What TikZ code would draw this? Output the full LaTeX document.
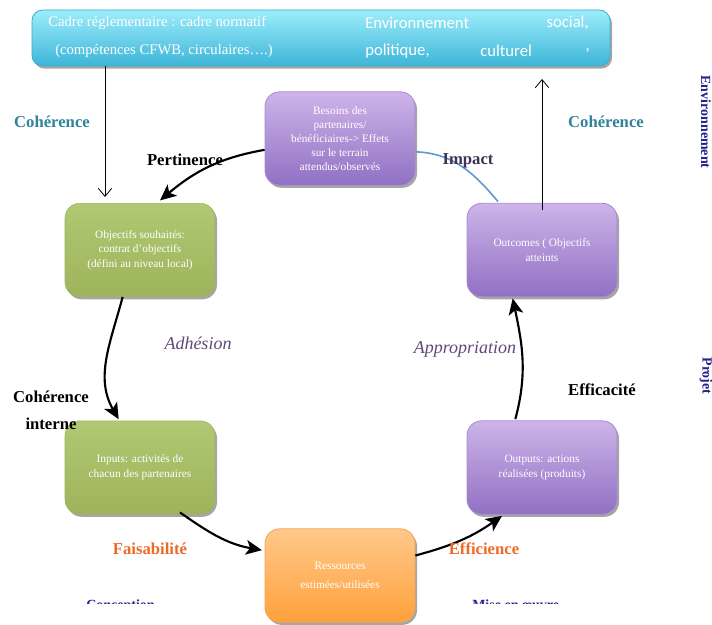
\documentclass[tikz,border=0pt]{standalone}
\usepackage{fontspec}
\setmainfont{Liberation Serif}
\newfontfamily\calib{Carlito}
\usetikzlibrary{arrows.meta,shadows,calc}
\definecolor{pTop}{HTML}{CDB4E9}
\definecolor{pBot}{HTML}{9170C3}
\definecolor{pDraw}{HTML}{A68BD2}
\definecolor{gTop}{HTML}{B1C874}
\definecolor{gBot}{HTML}{9DB45B}
\definecolor{oTop}{HTML}{FFC88A}
\definecolor{oBot}{HTML}{FFA13C}
\definecolor{oDraw}{HTML}{F5A455}
\definecolor{bTop}{HTML}{9DEDFB}
\definecolor{bBot}{HTML}{3DB5D8}
\definecolor{bDraw}{HTML}{38ACCF}
\definecolor{tealc}{HTML}{31849B}
\definecolor{impc}{HTML}{403152}
\definecolor{itc}{HTML}{5F497A}
\definecolor{orc}{HTML}{EE6A28}
\definecolor{navy}{HTML}{23238C}
\definecolor{bluel}{HTML}{5B9BD5}
\begin{document}
\begin{tikzpicture}[x=0.75pt,y=-0.75pt,
  shad/.style={drop shadow={shadow xshift=1.5pt,shadow yshift=-2pt,opacity=0.35,fill=black}},
  box/.style={rounded corners=11pt, minimum width=112.5pt, minimum height=70pt, inner sep=1pt,
    align=center, text=white, font=\fontsize{8.5}{11}\selectfont, shad},
  purplebox/.style={box, top color=pTop, bottom color=pBot, draw=pDraw, line width=0.6pt},
  greenbox/.style={box, top color=gTop, bottom color=gBot, draw=gBot, line width=0.4pt},
  orangebox/.style={box, top color=oTop, bottom color=oBot, draw=oDraw, line width=0.6pt},
  bannerbox/.style={rounded corners=8pt, minimum width=433.5pt, minimum height=42pt,
    top color=bTop, bottom color=bBot, draw=bDraw, line width=0.6pt, shad},
  bantext/.style={text=white, inner sep=0pt, font=\fontsize{11}{13}\selectfont},
  bansans/.style={text=white, inner sep=0pt, font=\calib\fontsize{12.5}{14}\selectfont},
  lab/.style={inner sep=0pt, font=\bfseries\fontsize{12.5}{14}\selectfont},
  itlab/.style={inner sep=0pt, text=itc, font=\itshape\fontsize{13.5}{15}\selectfont},
  sidetxt/.style={inner sep=0pt, text=navy, font=\bfseries\fontsize{10.5}{12}\selectfont},
  thickarr/.style={line width=1.6pt, -{Stealth[length=12pt,width=11pt,inset=3pt]}},
  thinarr/.style={line width=0.6pt, -{Straight Barb[length=6pt,width=10pt]}}
]
\useasboundingbox (0,0) rectangle (712,624);
\clip (0,0) rectangle (712,624);
\fill[white] (0,0) rectangle (712,624);

% banner
\node[bannerbox] (ban) at (321,38) {};
\node[bantext, anchor=west] (b1) at (48,23) {Cadre réglementaire : cadre normatif};
\node[bantext, anchor=west] (b2) at (55,51) {(compétences CFWB, circulaires….)};
\node[bansans, anchor=west] (b3) at (365,23) {Environnement};
\node[bansans, anchor=east] (b4) at (589,23) {social,};
\node[bansans, anchor=west] (b5) at (365,51) {politique,};
\node[bansans, anchor=west] (b6) at (480,51) {culturel};
\node[bansans, anchor=east] (b7) at (590,51) {,};

% boxes
\node[purplebox, font=\fontsize{8.5}{10.5}\selectfont] (bes) at (340,138.5)
  {Besoins des\\partenaires/\\bénéficiaires-> Effets\\sur le terrain\\attendus/observés};
\node[greenbox] (obj) at (140,250)
  {Objectifs souhaités:\\contrat d’objectifs\\(défini au niveau local)};
\node[purplebox] (outc) at (542,250) {Outcomes ( Objectifs\\atteints};
\node[greenbox] (inp) at (140,467.5) {Inputs: activités de\\chacun des partenaires};
\node[purplebox] (outp) at (542,467.5) {Outputs: actions\\réalisées (produits)};
\node[orangebox, font=\fontsize{8.5}{14}\selectfont] (res) at (340,575.5)
  {Ressources\\estimées/utilisées};

% connectors
\coordinate (t1) at (105,197);
\draw[thinarr] (ban.south -| t1) -- (t1);
\coordinate (t2) at (542,79);
\draw[thinarr] ([yshift=-5pt]outc.north) -- (t2);
\draw[thickarr] ([yshift=-8.5pt]bes.west) to[out=190,in=40] ([xshift=15pt,yshift=2pt]obj.north);
\draw[thickarr] ([xshift=-13pt]obj.south) to[out=255,in=120] ([xshift=-16pt,yshift=1pt]inp.north);
\draw[thickarr] ([xshift=30pt,yshift=1.5pt]inp.south) to[out=-35,in=170] ([xshift=-2pt,yshift=19pt]res.west);
\draw[thickarr] ([yshift=15pt]res.east) to[out=15,in=215] ([xshift=-30pt,yshift=-1pt]outp.south);
\draw[thickarr] ([xshift=-20pt,yshift=1pt]outp.north) to[out=75,in=282] ([xshift=-22pt,yshift=-1pt]outc.south);
\draw[bluel, line width=1.2pt] ([yshift=-10pt]bes.east) to[out=-2,in=130] ([xshift=-33pt,yshift=1pt]outc.north);

% labels
\node[lab, text=tealc] (c1) at (52,122) {Cohérence};
\node[lab, text=tealc] (c2) at (606,122) {Cohérence};
\node[lab] (per) at (185,160) {Pertinence};
\node[lab, text=impc] (imp) at (468,161) {Impact};
\node[itlab] (adh) at (198,343) {Adhésion};
\node[itlab] (app) at (465,349) {Appropriation};
\node[lab] (ci1) at (51,397) {Cohérence};
\node[lab] (ci2) at (51,424) {interne};
\node[lab] (eff) at (602,390) {Efficacité};
\node[lab, text=orc] (fai) at (150,549) {Faisabilité};
\node[lab, text=orc] (efi) at (484,549) {Efficience};

% side texts (cut by the frame)
\node[sidetxt, rotate=-90] (s1) at (706,122) {Environnement};
\node[sidetxt, rotate=-90] (s2) at (706,376) {Projet};
\begin{scope}
\clip (0,590) rectangle (712,603.5);
\node[sidetxt, anchor=north west] (s3) at (86,600) {Conception};
\node[sidetxt, anchor=north west] (s4) at (472,600) {Mise en œuvre};
\end{scope}
\end{tikzpicture}
\end{document}
